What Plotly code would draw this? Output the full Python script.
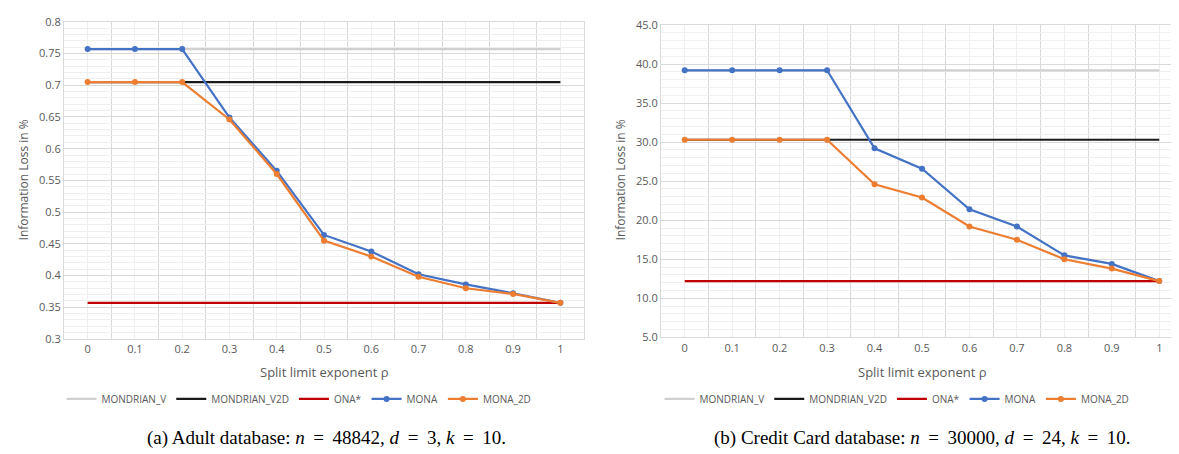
import plotly.graph_objects as go

rho = [0, 0.1, 0.2, 0.3, 0.4, 0.5, 0.6, 0.7, 0.8, 0.9, 1.0]
rho_labels = ["0", "0.1", "0.2", "0.3", "0.4", "0.5", "0.6", "0.7", "0.8", "0.9", "1"]

# (a) Adult database
adult_mondrian_v = [0.757] * 11
adult_mondrian_v2d = [0.705] * 11
adult_ona = [0.357] * 11
adult_mona = [0.757, 0.757, 0.757, 0.649, 0.565, 0.464, 0.438, 0.402, 0.386, 0.372, 0.357]
adult_mona_2d = [0.705, 0.705, 0.705, 0.646, 0.560, 0.455, 0.430, 0.398, 0.380, 0.371, 0.357]
adult_ticks = [0.3, 0.35, 0.4, 0.45, 0.5, 0.55, 0.6, 0.65, 0.7, 0.75, 0.8]
adult_ticktext = ["0.3", "0.35", "0.4", "0.45", "0.5", "0.55", "0.6", "0.65", "0.7", "0.75", "0.8"]

# (b) Credit Card database
credit_mondrian_v = [39.2] * 11
credit_mondrian_v2d = [30.3] * 11
credit_ona = [12.2] * 11
credit_mona = [39.2, 39.2, 39.2, 39.2, 29.2, 26.6, 21.4, 19.2, 15.5, 14.4, 12.2]
credit_mona_2d = [30.3, 30.3, 30.3, 30.3, 24.6, 22.9, 19.2, 17.5, 15.0, 13.8, 12.2]

series_names = ["MONDRIAN_V", "MONDRIAN_V2D", "ONA*", "MONA", "MONA_2D"]
colors = ["#d0d0d0", "#1a1a1a", "#c00000", "#4472c4", "#ed7d31"]

EQ = "&#8201;=&#8201;"
captions = [
    f"(a) Adult database: <i>n</i> {EQ} 48842, <i>d</i> {EQ} 3, <i>k</i> {EQ} 10.",
    f"(b) Credit Card database: <i>n</i> {EQ} 30000, <i>d</i> {EQ} 24, <i>k</i> {EQ} 10.",
]

W, H = 1179, 454
FONT = "Open Sans"
TXT = "#595959"

fig = go.Figure()

datasets = [
    [adult_mondrian_v, adult_mondrian_v2d, adult_ona, adult_mona, adult_mona_2d],
    [credit_mondrian_v, credit_mondrian_v2d, credit_ona, credit_mona, credit_mona_2d],
]
for i, data in enumerate(datasets):
    xa = "x" if i == 0 else "x2"
    ya = "y" if i == 0 else "y2"
    lg = "legend" if i == 0 else "legend2"
    for j, (name, vals) in enumerate(zip(series_names, data)):
        with_markers = j >= 3
        fig.add_trace(go.Scatter(
            x=rho, y=vals, name=name, xaxis=xa, yaxis=ya, legend=lg,
            mode="lines+markers" if with_markers else "lines",
            line=dict(color=colors[j], width=2.2),
            marker=dict(size=6, color=colors[j]),
            hoverinfo="skip",
        ))

grid_major = "#d9d9d9"
grid_minor = "#efefef"

def xaxis_cfg(domain):
    return dict(
        domain=domain, range=[-0.05, 1.05],
        tickvals=rho, ticktext=rho_labels,
        showgrid=True, gridcolor="#eeeeee", gridwidth=1,
        minor=dict(tick0=0.05, dtick=0.1, showgrid=True, gridcolor=grid_major, gridwidth=1),
        showline=True, linecolor=grid_major, linewidth=1, mirror=True,
        zeroline=False, ticks="",
        tickfont=dict(family=FONT, size=11, color=TXT),
        fixedrange=True,
    )

ax1 = xaxis_cfg([56 / W, 576 / W])
ax1["anchor"] = "y"
ax2 = xaxis_cfg([653 / W, 1175 / W])
ax2["anchor"] = "y2"

fig.update_layout(
    width=W, height=H,
    margin=dict(l=0, r=0, t=0, b=0),
    paper_bgcolor="white", plot_bgcolor="white",
    showlegend=True,
    xaxis=ax1,
    xaxis2=ax2,
    yaxis=dict(
        domain=[1 - 334 / H, 1 - 6 / H], anchor="x",
        range=[0.3, 0.8], tickvals=adult_ticks, ticktext=adult_ticktext,
        showgrid=True, gridcolor=grid_major,
        minor=dict(dtick=0.01, tick0=0.3, showgrid=True, gridcolor=grid_minor),
        showline=True, linecolor=grid_major, mirror=True,
        zeroline=False, ticks="",
        tickfont=dict(family=FONT, size=11, color=TXT),
    ),
    yaxis2=dict(
        domain=[1 - 332.3 / H, 1 - 9.3 / H], anchor="x2",
        range=[5, 45], dtick=5, tick0=5, tickformat=".1f",
        showgrid=True, gridcolor=grid_major,
        minor=dict(dtick=1, tick0=5, showgrid=True, gridcolor=grid_minor),
        showline=True, linecolor=grid_major, mirror=True,
        zeroline=False, ticks="",
        tickfont=dict(family=FONT, size=11, color=TXT),
    ),
    legend=dict(
        orientation="h", x=291 / W, y=1 - 396 / H, xanchor="center", yanchor="middle",
        font=dict(family=FONT, size=10, color=TXT), itemwidth=30,
        bgcolor="rgba(0,0,0,0)", tracegroupgap=0,
    ),
    legend2=dict(
        orientation="h", x=889 / W, y=1 - 396 / H, xanchor="center", yanchor="middle",
        font=dict(family=FONT, size=10, color=TXT), itemwidth=30,
        bgcolor="rgba(0,0,0,0)", tracegroupgap=0,
    ),
)

annotations = []
for cx, ycx in [(316, 15), (914, 612)]:
    annotations.append(dict(
        text="Split limit exponent ρ", x=cx / W, y=1 - 368 / H, xref="paper", yref="paper",
        xanchor="center", yanchor="middle", showarrow=False,
        font=dict(family=FONT, size=13, color=TXT),
    ))
    annotations.append(dict(
        text="Information Loss in %", x=ycx / W, y=1 - 170 / H, xref="paper", yref="paper",
        xanchor="center", yanchor="middle", showarrow=False, textangle=-90,
        font=dict(family=FONT, size=12, color=TXT),
    ))
for cap, cx in zip(captions, [318, 914]):
    annotations.append(dict(
        text=cap, x=cx / W, y=1 - 436 / H, xref="paper", yref="paper",
        xanchor="center", yanchor="middle", showarrow=False,
        font=dict(family="Liberation Serif", size=19, color="black"),
    ))
fig.update_layout(annotations=annotations)

fig.write_html("out.html")
